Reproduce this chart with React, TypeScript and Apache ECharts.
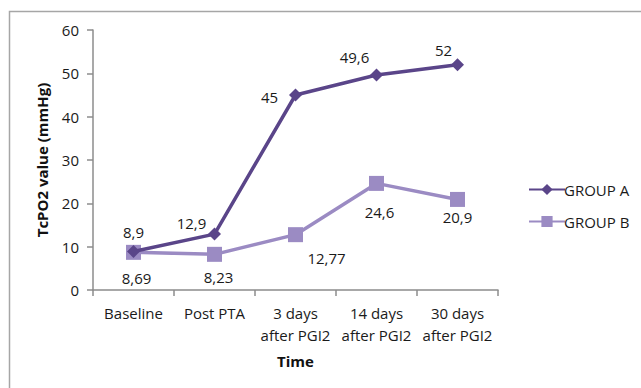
import React, { useEffect, useRef } from "react";
import * as echarts from "echarts";

const categories = ["Baseline", "Post PTA", "3 days\nafter PGI2", "14 days\nafter PGI2", "30 days\nafter PGI2"];
const groupA = [8.9, 12.9, 45, 49.6, 52];
const groupB = [8.69, 8.23, 12.77, 24.6, 20.9];
const labelsA = ["8,9", "12,9", "45", "49,6", "52"];
const labelsB = ["8,69", "8,23", "12,77", "24,6", "20,9"];
const offsetsA = [[0, -19], [-23, -11], [-26, 2], [-22, -18], [-14, -15]];
const offsetsB = [[3, 26], [4, 23], [31, 23], [3, 29], [0, 18]];

const FONT = "Open Sans";

export default function App() {
  const ref = useRef<HTMLDivElement>(null);
  useEffect(() => {
    const chart = echarts.init(ref.current!, undefined, { renderer: "svg" });
    const mk = (vals: number[], labels: string[], offs: number[][]) =>
      vals.map((v, i) => ({
        value: v,
        label: { formatter: labels[i], offset: offs[i] },
      }));
    chart.setOption({
      animation: false,
      backgroundColor: "#fff",
      textStyle: { fontFamily: FONT },
      graphic: [
        {
          type: "rect",
          shape: { x: 9.5, y: 11.5, width: 700, height: 500 },
          style: { fill: "none", stroke: "#a6a6a6", lineWidth: 1.5 },
          silent: true,
        },
      ],
      grid: { left: 93, right: 143, top: 30, bottom: 98 },
      legend: {
        orient: "vertical",
        left: 523,
        top: 177,
        itemWidth: 36,
        itemHeight: 14,
        itemGap: 17,
        textStyle: { fontFamily: FONT, fontSize: 15, color: "#1a1a1a", padding: [0, 0, 0, -6] },
        data: ["GROUP A", "GROUP B"],
      },
      xAxis: {
        type: "category",
        data: categories,
        boundaryGap: true,
        name: "Time",
        nameLocation: "middle",
        nameGap: 63,
        nameTextStyle: { fontFamily: FONT, fontSize: 15, fontWeight: "bold", color: "#111" },
        axisLine: { lineStyle: { color: "#8c8c8c", width: 1.5 } },
        axisTick: { show: true, length: 6, alignWithLabel: false, lineStyle: { color: "#8c8c8c", width: 1.5 } },
        axisLabel: { fontFamily: FONT, fontSize: 15, color: "#1a1a1a", margin: 12, lineHeight: 22, interval: 0 },
      },
      yAxis: {
        type: "value",
        min: 0,
        max: 60,
        interval: 10,
        name: "TcPO2 value (mmHg)",
        nameLocation: "middle",
        nameGap: 44,
        nameTextStyle: { fontFamily: FONT, fontSize: 15, fontWeight: "bold", color: "#111" },
        axisLine: { show: true, lineStyle: { color: "#8c8c8c", width: 1.5 } },
        axisTick: { show: true, length: 6, lineStyle: { color: "#8c8c8c", width: 1.5 } },
        splitLine: { show: false },
        axisLabel: { fontFamily: FONT, fontSize: 15, color: "#1a1a1a", margin: 14 },
      },
      series: [
        {
          name: "GROUP B",
          type: "line",
          data: mk(groupB, labelsB, offsetsB),
          symbol: "rect",
          symbolSize: 15,
          itemStyle: { color: "#9b8bc3" },
          lineStyle: { color: "#9b8bc3", width: 3.5 },
          label: { show: true, position: "inside", fontFamily: FONT, fontSize: 15, color: "#1a1a1a" },
          z: 2,
        },
        {
          name: "GROUP A",
          type: "line",
          data: mk(groupA, labelsA, offsetsA),
          symbol: "diamond",
          symbolSize: 13,
          itemStyle: { color: "#5a4589" },
          lineStyle: { color: "#5a4589", width: 3.5 },
          label: { show: true, position: "inside", fontFamily: FONT, fontSize: 15, color: "#1a1a1a" },
          z: 3,
        },
      ],
    });
    return () => chart.dispose();
  }, []);
  return <div ref={ref} style={{ position: "fixed", left: 0, top: 0, width: 641, height: 388 }} />;
}
